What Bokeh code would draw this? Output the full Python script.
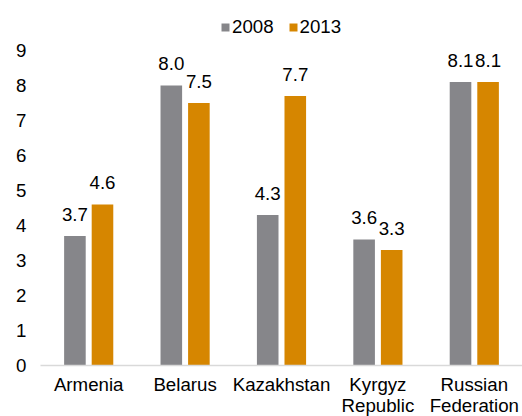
from bokeh.plotting import figure
from bokeh.models import ColumnDataSource, FactorRange, Range1d, FixedTicker, Legend, LegendItem
from bokeh.transform import dodge
from bokeh.embed import file_html
from bokeh.resources import INLINE
from bokeh.core.properties import value

countries = ["Armenia", "Belarus", "Kazakhstan", "Kyrgyz\nRepublic", "Russian\nFederation"]
v2008 = [3.7, 8.0, 4.3, 3.6, 8.1]
v2013 = [4.6, 7.5, 7.7, 3.3, 8.1]
y_ticks = [0, 1, 2, 3, 4, 5, 6, 7, 8, 9]
series_names = ["2008", "2013"]

GRAY = "#86868A"
ORANGE = "#D68600"
FONT = "Liberation Sans"
FS = "18.7px"

src = ColumnDataSource(dict(
    country=countries,
    v2008=v2008,
    v2013=v2013,
    l2008=[f"{v:.1f}" for v in v2008],
    l2013=[f"{v:.1f}" for v in v2013],
))

FH = 353
p = figure(
    x_range=FactorRange(*countries, range_padding=0),
    y_range=Range1d(0, FH / 35.0),
    frame_width=482, frame_height=FH,
    output_backend="svg", toolbar_location=None,
    min_border_left=40, min_border_right=0, min_border_top=12, min_border_bottom=0,
)
p.x_range.range_padding = 0

r1 = p.vbar(x=dodge("country", -0.143, range=p.x_range), top="v2008", width=0.224,
            source=src, color=GRAY, line_color=None)
r2 = p.vbar(x=dodge("country", 0.143, range=p.x_range), top="v2013", width=0.224,
            source=src, color=ORANGE, line_color=None)

for off, col in [(-0.143, "l2008"), (0.143, "l2013")]:
    p.text(x=dodge("country", off, range=p.x_range), y=col.replace("l", "v"), text=col,
           source=src, text_align="center", text_baseline="alphabetic", y_offset=-22,
           text_font=value(FONT), text_font_size=FS, text_color="#000000")

legend = Legend(items=[LegendItem(label=series_names[0], renderers=[r1]),
                       LegendItem(label=series_names[1], renderers=[r2])],
                orientation="horizontal", location=(180, FH - 26),
                glyph_width=10, glyph_height=10, label_standoff=2, spacing=14,
                padding=0, margin=0, border_line_color=None, background_fill_alpha=0,
                label_text_font=FONT, label_text_font_size=FS, label_text_color="#000000",
                label_height=18)
p.add_layout(legend)

p.xgrid.grid_line_color = None
p.ygrid.grid_line_color = None
p.outline_line_color = None

p.yaxis.ticker = FixedTicker(ticks=y_ticks)
p.yaxis.axis_line_color = None
p.yaxis.major_tick_line_color = None
p.yaxis.minor_tick_line_color = None
p.yaxis.major_tick_out = 0
p.yaxis.major_label_standoff = 14
p.yaxis.major_label_text_font = FONT
p.yaxis.major_label_text_font_size = FS
p.yaxis.major_label_text_color = "#000000"

p.xaxis.axis_line_color = "#D9D9D9"
p.xaxis.axis_line_width = 1.5
p.xaxis.major_tick_line_color = None
p.xaxis.major_tick_out = 0
p.xaxis.major_label_standoff = 8
p.xaxis.major_label_text_line_height = 1.0
p.xaxis.major_label_text_font = FONT
p.xaxis.major_label_text_font_size = FS
p.xaxis.major_label_text_color = "#000000"

open("out.html", "w").write(file_html(p, INLINE))
